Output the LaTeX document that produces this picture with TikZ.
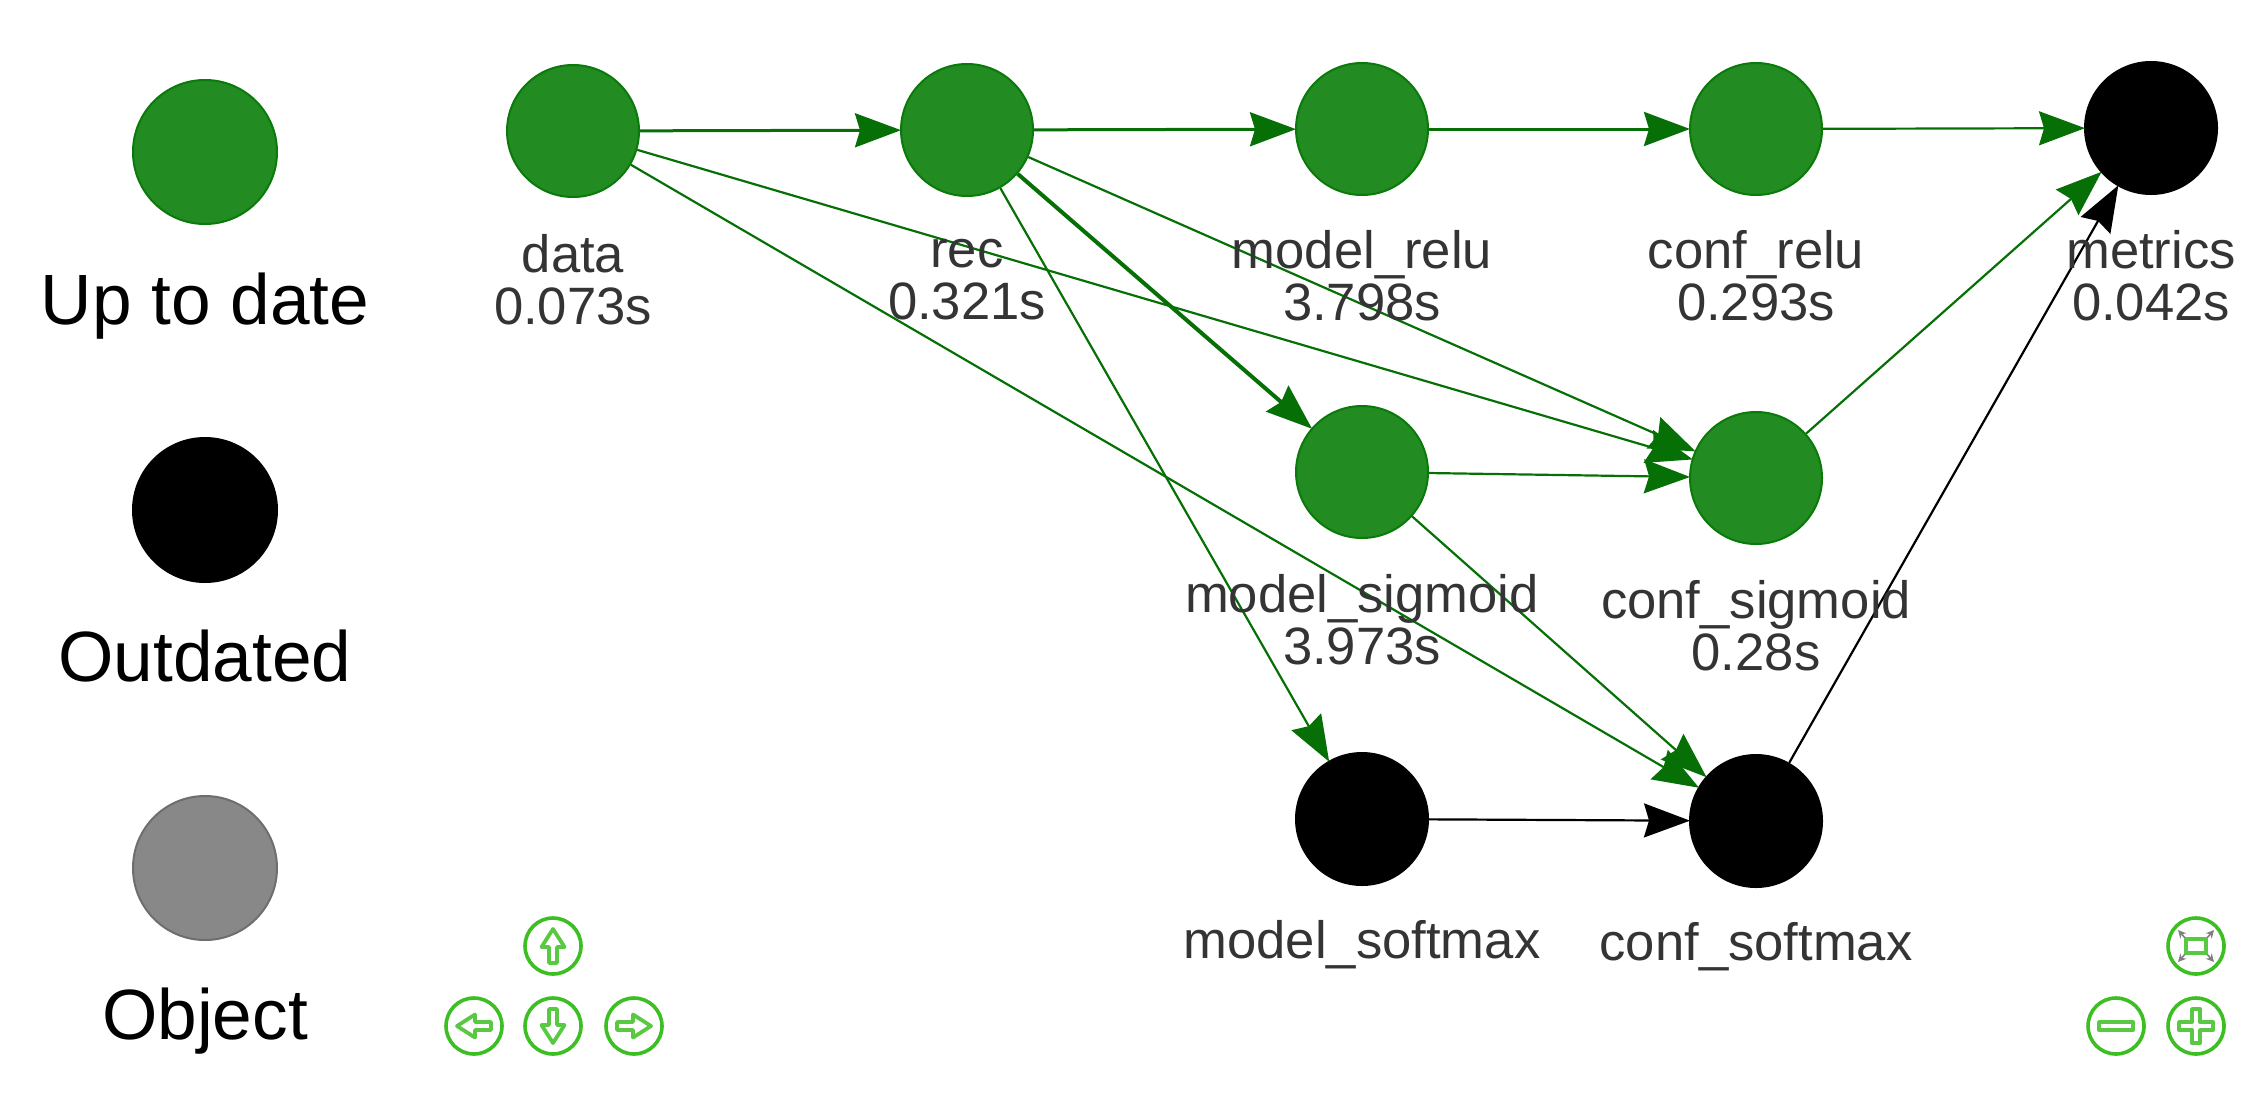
\documentclass[tikz,border=0pt]{standalone}
\usepackage{fontspec}
\setmainfont{Liberation Sans}
\usetikzlibrary{arrows.meta}
\definecolor{upcolor}{HTML}{228B22}
\definecolor{upborder}{HTML}{0A7A0A}
\definecolor{edgecolor}{HTML}{067006}
\definecolor{objcolor}{HTML}{888888}
\definecolor{objborder}{HTML}{6E6E6E}
\definecolor{labelcolor}{HTML}{343434}
\definecolor{navcolor}{HTML}{3CBF22}
\tikzset{
	uptodate/.style={circle, fill=upcolor, draw=upborder, line width=1pt, minimum size=66pt, inner sep=0pt},
	outdated/.style={circle, fill=black, draw=black, line width=1pt, minimum size=66pt, inner sep=0pt},
	legendup/.style={uptodate, minimum size=72pt},
	legendout/.style={outdated, minimum size=72pt},
	legendobj/.style={circle, fill=objcolor, draw=objborder, line width=1pt, minimum size=72pt, inner sep=0pt},
	legendtext/.style={font=\fontsize{35.6pt}{40pt}\selectfont, text=black, inner sep=0pt},
	nodetext/.style={font=\fontsize{26.3pt}{26pt}\selectfont, text=labelcolor, align=center, inner sep=0pt},
	greenedge/.style={-{Stealth[length=23pt, width=17pt, inset=2.5pt]}, line width=1.1pt, color=edgecolor, shorten >=-0.5pt},
	greenmid/.style={greenedge, line width=1.5pt},
	greenthick/.style={greenedge, line width=2pt},
	blackedge/.style={greenedge, color=black},
	navbtn/.style={circle, draw=navcolor, fill=white, line width=1.8pt, minimum size=28pt, inner sep=0pt},
	navicon/.style={draw=navcolor!85, line width=1.9pt, line join=round, line cap=round},
	fitarrow/.style={-{Stealth[length=4pt, width=4pt]}, draw=black!50, line width=0.8pt}
}
\newcommand{\navarrow}[2]{\draw[navicon, shift={(#1)}, rotate=#2] (0,-17) -- (11.5,1) -- (4,1) -- (4,17) -- (-4,17) -- (-4,1) -- (-11.5,1) -- cycle;}
\begin{document}
\begin{tikzpicture}[x=0.5pt, y=-0.5pt]
	\useasboundingbox (0,0) rectangle (2262,1114);

	% legend
	\node[legendup](legend_up) at (205,152){};
	\node[legendout](legend_out) at (205,510){};
	\node[legendobj](legend_obj) at (205,868){};
	\node[legendtext](legend_up_text) at (205,306){Up to date};
	\node[legendtext](legend_out_text) at (205,656){Outdated};
	\node[legendtext](legend_obj_text) at (205,1021){Object};

	% targets
	\node[uptodate](data) at (573,131){};
	\node[uptodate](rec) at (967,130){};
	\node[uptodate](model_relu) at (1362,129){};
	\node[uptodate](conf_relu) at (1756,129){};
	\node[outdated](metrics) at (2151,128){};
	\node[uptodate](model_sigmoid) at (1362,472){};
	\node[uptodate](conf_sigmoid) at (1756,478){};
	\node[outdated](model_softmax) at (1362,819){};
	\node[outdated](conf_softmax) at (1756,821){};

	% dependencies
	\draw [greenmid] (data) -- (rec);
	\draw [greenedge] (data) -- (conf_sigmoid);
	\draw [greenedge] (data) -- (conf_softmax);
	\draw [greenmid] (rec) -- (model_relu);
	\draw [greenthick] (rec) -- (model_sigmoid);
	\draw [greenedge] (rec) -- (model_softmax);
	\draw [greenedge] (rec) -- (conf_sigmoid);
	\draw [greenmid] (model_relu) -- (conf_relu);
	\draw [greenedge] (conf_relu) -- (metrics);
	\draw [greenedge] (model_sigmoid) -- (conf_sigmoid);
	\draw [greenedge] (model_sigmoid) -- (conf_softmax);
	\draw [greenedge] (conf_sigmoid) -- (metrics);
	\draw [blackedge] (model_softmax) -- (conf_softmax);
	\draw [blackedge] (conf_softmax) -- (metrics);

	% labels
	\node[nodetext](data_text) at (573,280){data\\0.073s};
	\node[nodetext](rec_text) at (967,280){rec\\0.321s};
	\node[nodetext](model_relu_text) at (1362,276){model\_relu\\3.798s};
	\node[nodetext](conf_relu_text) at (1756,276){conf\_relu\\0.293s};
	\node[nodetext](metrics_text) at (2151,276){metrics\\0.042s};
	\node[nodetext](model_sigmoid_text) at (1362,620){model\_sigmoid\\3.973s};
	\node[nodetext](conf_sigmoid_text) at (1756,626){conf\_sigmoid\\0.28s};
	\node[nodetext](model_softmax_text) at (1362,945){model\_softmax};
	\node[nodetext](conf_softmax_text) at (1756,947){conf\_softmax};

	% navigation
	\node[navbtn](nav_up) at (553,946){};
	\node[navbtn](nav_left) at (474,1026){};
	\node[navbtn](nav_down) at (553,1026){};
	\node[navbtn](nav_right) at (634,1026){};
	\node[navbtn](nav_fit) at (2196,946){};
	\node[navbtn](nav_minus) at (2116,1026){};
	\node[navbtn](nav_plus) at (2196,1026){};
	\navarrow{nav_up}{0}
	\navarrow{nav_left}{90}
	\navarrow{nav_down}{180}
	\navarrow{nav_right}{-90}
	\draw[fitarrow, shift={(nav_fit)}] (-10,-7) -- (-18,-16);
	\draw[fitarrow, shift={(nav_fit)}] (10,-7) -- (18,-16);
	\draw[fitarrow, shift={(nav_fit)}] (-10,7) -- (-18,16);
	\draw[fitarrow, shift={(nav_fit)}] (10,7) -- (18,16);
	\draw[navicon, shift={(nav_fit)}] (-10,-7) rectangle (10,7);
	\draw[navicon, shift={(nav_minus)}] (-17,-4) rectangle (17,4);
	\draw[navicon, shift={(nav_plus)}] (-4,-17) -- (4,-17) -- (4,-4) -- (17,-4) -- (17,4) -- (4,4) -- (4,17) -- (-4,17) -- (-4,4) -- (-17,4) -- (-17,-4) -- (-4,-4) -- cycle;
\end{tikzpicture}
\end{document}
